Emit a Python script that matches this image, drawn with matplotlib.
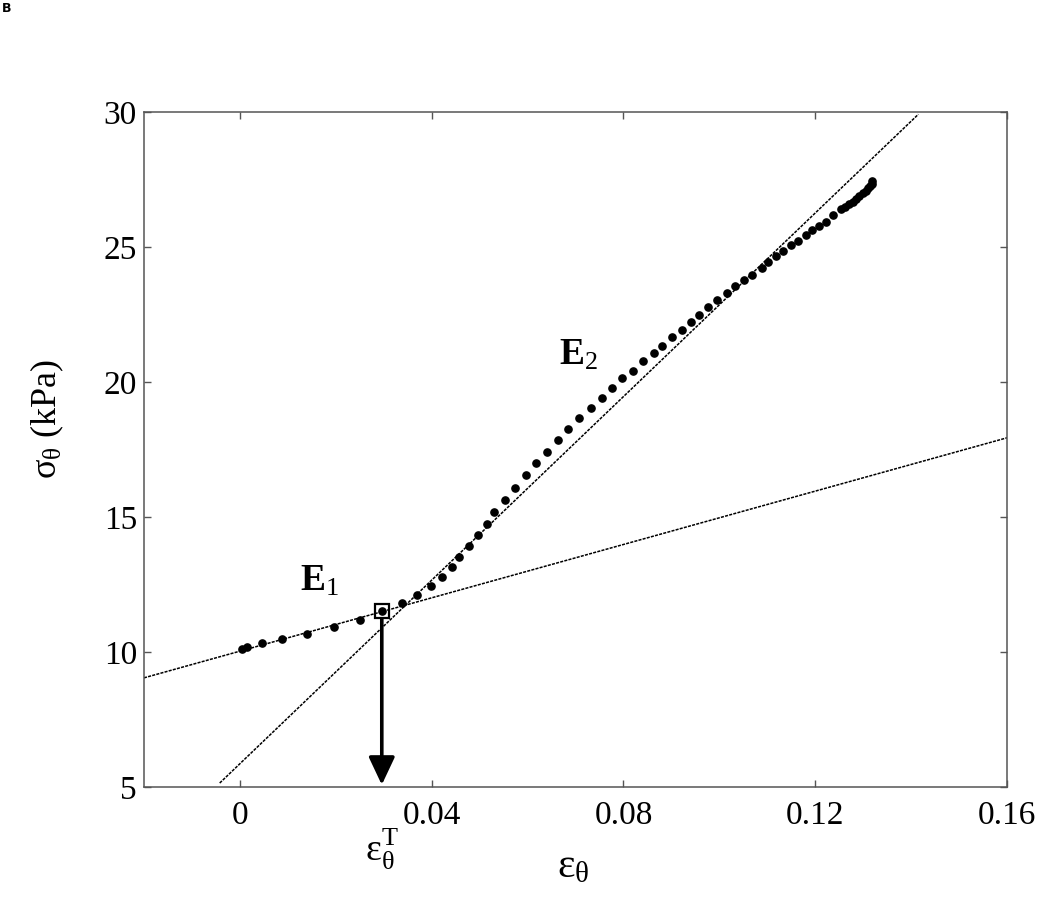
import numpy as np
import matplotlib
matplotlib.use("Agg")
import matplotlib.pyplot as plt

plt.rcParams['font.family'] = ['Liberation Serif', 'DejaVu Serif']
plt.rcParams['mathtext.fontset'] = 'custom'
plt.rcParams['mathtext.rm'] = 'Liberation Serif'
plt.rcParams['mathtext.it'] = 'Liberation Serif:italic'
plt.rcParams['mathtext.bf'] = 'Liberation Serif:bold'

# measured stress-strain points (strain, kPa)
strain = [0.0004, 0.0015, 0.0046, 0.0088, 0.0140, 0.0196, 0.0250, 0.0296,
          0.0338, 0.0369, 0.0398, 0.0421, 0.0442, 0.0458, 0.0477, 0.0496,
          0.0515, 0.0531, 0.0552, 0.0573, 0.0596, 0.0617, 0.0640, 0.0663,
          0.0685, 0.0708, 0.0733, 0.0756, 0.0777, 0.0798, 0.0819, 0.0840,
          0.0863, 0.0881, 0.0902, 0.0923, 0.0940, 0.0958, 0.0977, 0.0996,
          0.1015, 0.1033, 0.1052, 0.1069, 0.1088, 0.1102, 0.1119, 0.1133,
          0.1150, 0.1165, 0.1181, 0.1194, 0.1208, 0.1223, 0.1238, 0.1254,
          0.1262, 0.1271, 0.1278, 0.1285, 0.1292, 0.1299, 0.1306, 0.1311,
          0.1315, 0.1318, 0.1319]
stress = [10.11, 10.19, 10.33, 10.48, 10.67, 10.93, 11.19, 11.52,
          11.82, 12.11, 12.45, 12.78, 13.15, 13.52, 13.93, 14.34,
          14.75, 15.19, 15.64, 16.08, 16.57, 17.01, 17.42, 17.86,
          18.27, 18.68, 19.05, 19.42, 19.79, 20.13, 20.42, 20.76,
          21.09, 21.35, 21.65, 21.94, 22.24, 22.50, 22.76, 23.02,
          23.28, 23.54, 23.76, 23.98, 24.21, 24.43, 24.65, 24.84,
          25.06, 25.24, 25.43, 25.62, 25.76, 25.91, 26.17, 26.39,
          26.48, 26.58, 26.67, 26.77, 26.88, 26.99, 27.08, 27.17,
          27.25, 27.32, 27.43]

# linear fits: slope (kPa), intercept (kPa), strain range
e1_slope, e1_int, e1_range = 49.4, 10.03, (-0.02, 0.16)
e2_slope, e2_int, e2_range = 170.0, 5.86, (-0.0042, 0.1415)

# transition point
eps_t, sig_t = 0.0296, 11.52

xticks = [0, 0.04, 0.08, 0.12, 0.16]
xticklabels = ['0', '0.04', '0.08', '0.12', '0.16']
yticks = [5, 10, 15, 20, 25, 30]

fig = plt.figure(figsize=(10.5, 8.99), dpi=100)
ax = fig.add_axes([0.1371, 0.1246, 0.822, 0.7508])

ls = (0, (2, 0.8))
x1 = np.array(e1_range)
ax.plot(x1, e1_slope * x1 + e1_int, color='k', lw=1.1, ls=ls)
x2 = np.array(e2_range)
ax.plot(x2, e2_slope * x2 + e2_int, color='k', lw=1.1, ls=ls)

ax.plot(strain, stress, 'o', color='k', ms=5.2, mec='k')

ax.plot([eps_t], [sig_t], 's', mfc='none', mec='k', ms=10, mew=1.6)
ax.annotate('', xy=(eps_t, 5.08), xytext=(eps_t, sig_t - 0.3),
            arrowprops=dict(arrowstyle='-|>,head_length=0.85,head_width=0.4',
                            lw=2.6, color='k', mutation_scale=20,
                            shrinkA=0, shrinkB=0))

ax.text(0.0125, 12.6, r'$\mathbf{E}_\mathrm{1}$', fontsize=27, va='center')
ax.text(0.0665, 21.0, r'$\mathbf{E}_\mathrm{2}$', fontsize=27, va='center')

ax.set_xlim(-0.02, 0.16)
ax.set_ylim(5, 30)
ax.set_xticks(xticks)
ax.set_xticklabels(xticklabels)
ax.set_yticks(yticks)
ax.tick_params(direction='in', length=5, width=1, colors='#555555',
               labelcolor='k', labelsize=24, top=True, right=True)
ax.tick_params(axis='x', pad=10)
ax.tick_params(axis='y', pad=5)
for s in ax.spines.values():
    s.set_color('#555555')
    s.set_linewidth(1.1)

ax.text(eps_t, -0.093, r'$\mathrm{\varepsilon}_\mathrm{\theta}^\mathrm{T}$',
        transform=ax.get_xaxis_transform(), fontsize=27, ha='center', va='center')

ax.set_xlabel(r'$\mathrm{\varepsilon}_\mathrm{\theta}$', fontsize=30)
ax.xaxis.set_label_coords(0.497, -0.09)
ax.set_ylabel(r'$\mathrm{\sigma}_\mathrm{\theta}$ (kPa)', fontsize=26)
ax.yaxis.set_label_coords(-0.09, 0.545)

fig.text(0.002, 0.998, 'B', fontsize=9, fontweight='bold', family='DejaVu Sans',
         ha='left', va='top')

fig.savefig('out.png', dpi=100)
